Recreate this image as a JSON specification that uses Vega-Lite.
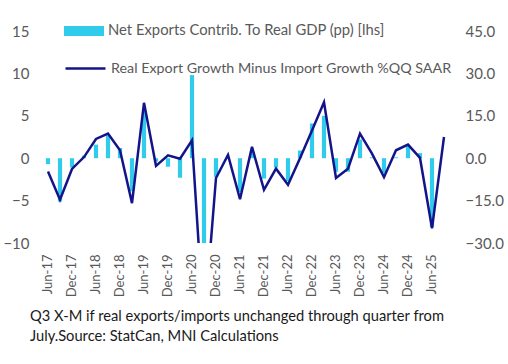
{
  "$schema": "https://vega.github.io/schema/vega-lite/v6.json",
  "width": 408,
  "height": 212,
  "autosize": "none",
  "padding": {"left": 42, "top": 31, "right": 58, "bottom": 121},
  "background": "white",
  "config": {"view": {"stroke": null}, "font": "Lato"},
  "title": {
    "text": ["Q3 X-M if real exports/imports unchanged through quarter from", "July.Source: StatCan, MNI Calculations"],
    "orient": "bottom", "anchor": "start", "frame": "group", "offset": 12, "dx": -12,
    "fontSize": 14.7, "font": "Lato", "fontWeight": "normal", "color": "#1a1a1a", "lineHeight": 20
  },
  "data": {"values": [
    {"q": "Jun-17", "netx": -0.7, "xm": -4.7},
    {"q": "Sep-17", "netx": -5.1, "xm": -14.7},
    {"q": "Dec-17", "netx": -1.1, "xm": -3.8},
    {"q": "Mar-18", "netx": 0.3, "xm": 0.4},
    {"q": "Jun-18", "netx": 1.6, "xm": 6.8},
    {"q": "Sep-18", "netx": 2.7, "xm": 8.7},
    {"q": "Dec-18", "netx": 1.2, "xm": 2.8},
    {"q": "Mar-19", "netx": -3.9, "xm": -15.9},
    {"q": "Jun-19", "netx": 5.5, "xm": 19.6},
    {"q": "Sep-19", "netx": -0.4, "xm": -2.7},
    {"q": "Dec-19", "netx": -1.0, "xm": 1.0},
    {"q": "Mar-20", "netx": -2.3, "xm": -0.2},
    {"q": "Jun-20", "netx": 9.8, "xm": 6.3},
    {"q": "Sep-20", "netx": -12.0, "xm": -60.0},
    {"q": "Dec-20", "netx": -2.2, "xm": -7.0},
    {"q": "Mar-21", "netx": 0.1, "xm": 1.2},
    {"q": "Jun-21", "netx": -4.0, "xm": -14.5},
    {"q": "Sep-21", "netx": 0.9, "xm": 4.0},
    {"q": "Dec-21", "netx": -2.4, "xm": -11.2},
    {"q": "Mar-22", "netx": -1.1, "xm": -3.7},
    {"q": "Jun-22", "netx": -2.7, "xm": -9.4},
    {"q": "Sep-22", "netx": 0.9, "xm": 0.0},
    {"q": "Dec-22", "netx": 4.1, "xm": 9.8},
    {"q": "Mar-23", "netx": 5.0, "xm": 19.8},
    {"q": "Jun-23", "netx": -1.6, "xm": -7.0},
    {"q": "Sep-23", "netx": -1.6, "xm": -3.7},
    {"q": "Dec-23", "netx": 2.2, "xm": 8.7},
    {"q": "Mar-24", "netx": 0.1, "xm": 1.6},
    {"q": "Jun-24", "netx": -1.75, "xm": -6.7},
    {"q": "Sep-24", "netx": 0.1, "xm": 2.8},
    {"q": "Dec-24", "netx": 1.6, "xm": 4.8},
    {"q": "Mar-25", "netx": 0.6, "xm": 0.1},
    {"q": "Jun-25", "netx": -8.1, "xm": -24.8},
    {"q": "Sep-25", "netx": null, "xm": 7.5}
  ]},
  "encoding": {
    "x": {
      "field": "q", "type": "ordinal", "sort": null,
      "scale": {"type": "band", "paddingInner": 0, "paddingOuter": 0},
      "axis": {
        "title": null, "domain": false, "ticks": false, "labelAngle": -90,
        "labelExpr": "(indexof(datum.value, 'Jun') == 0 || indexof(datum.value, 'Dec') == 0) ? datum.value : ''",
        "labelFontSize": 13, "labelColor": "#595959", "labelPadding": 11, "labelFont": "Lato"
      }
    }
  },
  "layer": [
    {
      "mark": {"type": "bar", "width": {"band": 0.35}, "clip": true},
      "encoding": {
        "y": {
          "field": "netx", "type": "quantitative",
          "scale": {"domain": [-10, 15], "nice": false, "zero": false},
          "axis": {"title": null, "values": [-10, -5, 0, 5, 10, 15], "grid": false, "domain": false, "ticks": false,
                   "labelFontSize": 15, "labelColor": "#595959", "labelPadding": 13, "labelFont": "Lato"}
        },
        "fill": {
          "datum": "Net Exports Contrib. To Real GDP (pp) [lhs]",
          "scale": {"range": ["#31CBEC"]},
          "legend": {
            "orient": "none", "legendX": 22, "legendY": -20, "title": null, "padding": 0,
            "symbolType": "M-1,-0.25L1,-0.25L1,0.25L-1,0.25Z", "symbolSize": 1600, "symbolStrokeWidth": 0,
            "labelFontSize": 14.8, "labelColor": "#595959", "labelFont": "Lato", "labelOffset": 4, "labelLimit": 400
          }
        }
      }
    },
    {
      "mark": {"type": "rule", "color": "#D9D9D9", "strokeWidth": 2.5},
      "encoding": {
        "y": {"datum": 0, "type": "quantitative", "scale": {"domain": [-10, 15], "nice": false, "zero": false}, "axis": null}
      }
    },
    {
      "mark": {"type": "line", "strokeWidth": 2.5, "clip": true},
      "encoding": {
        "y": {
          "field": "xm", "type": "quantitative",
          "scale": {"domain": [-30, 45], "nice": false, "zero": false},
          "axis": {"title": null, "orient": "right", "values": [-30, -15, 0, 15, 30, 45], "format": ".1f", "grid": false,
                   "domain": false, "ticks": false, "labelFontSize": 15, "labelColor": "#595959", "labelPadding": 15, "labelFont": "Lato"}
        },
        "stroke": {
          "datum": "Real Export Growth Minus Import Growth %QQ SAAR",
          "scale": {"range": ["#14148A"]},
          "legend": {
            "orient": "none", "legendX": 22, "legendY": 16, "title": null, "padding": 0,
            "symbolType": "stroke", "symbolSize": 1600, "symbolStrokeWidth": 2.5,
            "labelFontSize": 14.3, "labelColor": "#595959", "labelFont": "Lato", "labelOffset": 4, "labelLimit": 400
          }
        }
      }
    }
  ],
  "resolve": {"scale": {"y": "independent"}}
}
